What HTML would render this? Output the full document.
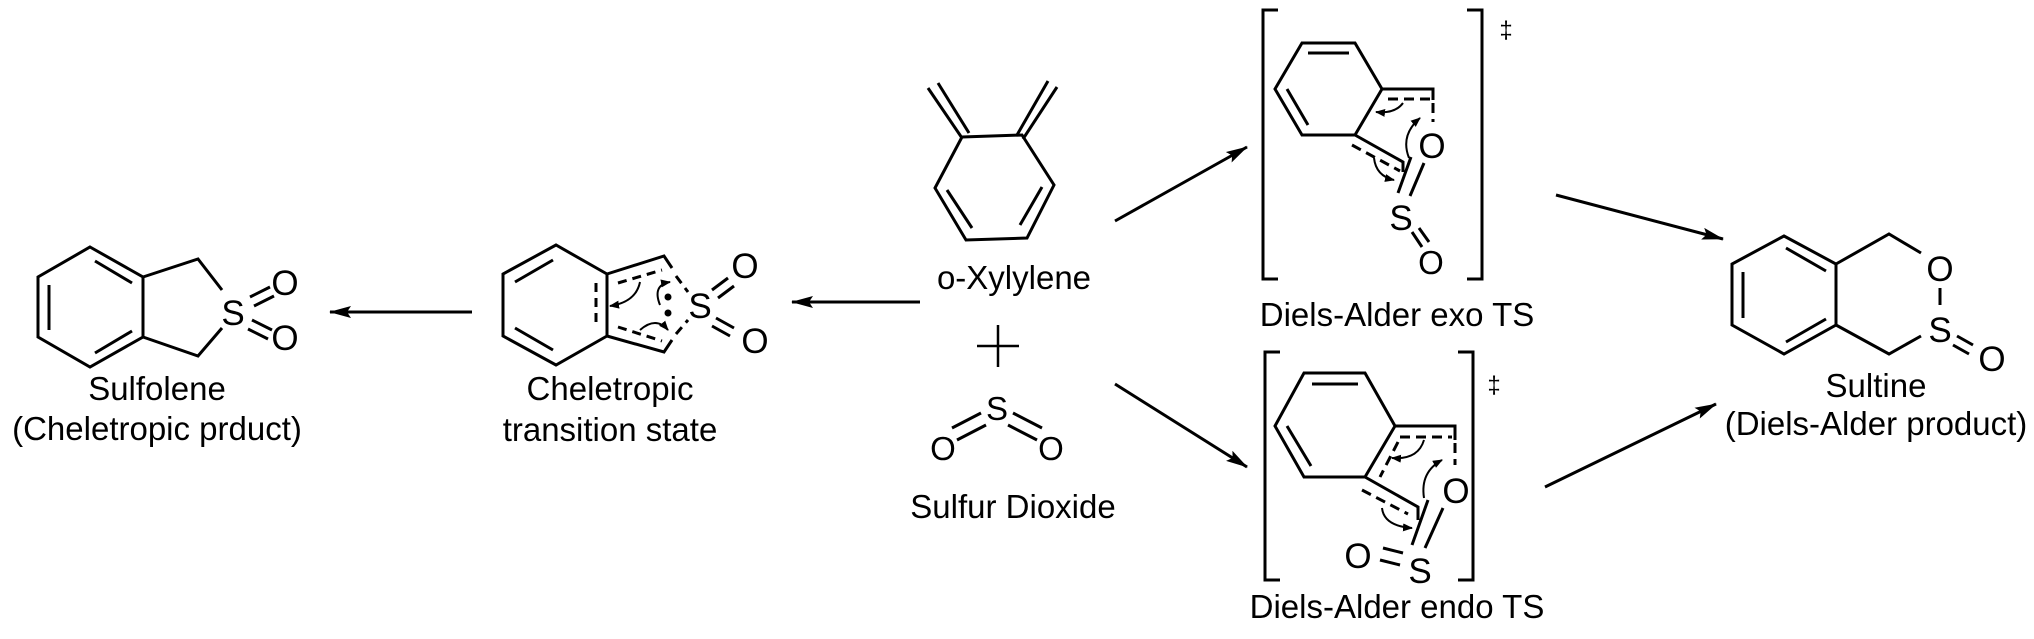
<!DOCTYPE html>
<html><head><meta charset="utf-8"><style>
html,body{margin:0;padding:0;background:#fff}
svg{display:block}
text{font-family:"Liberation Sans",Arial,sans-serif;fill:#000}
</style></head><body>
<svg width="2034" height="639" viewBox="0 0 2034 639" xmlns="http://www.w3.org/2000/svg">
<defs>
<marker id="ah" markerWidth="10" markerHeight="8" refX="9" refY="4" orient="auto" markerUnits="userSpaceOnUse">
<path d="M0,0 L10,4 L0,8 Z" fill="#000"/></marker>
<marker id="big" markerWidth="22" markerHeight="12" refX="21" refY="6" orient="auto" markerUnits="userSpaceOnUse">
<path d="M0,0 L22,6 L0,12 L4,6 Z" fill="#000"/></marker>
</defs>
<g stroke="#000" stroke-width="3" fill="none" stroke-linecap="butt">
<polygon points="90,247 143,277 143,337 90,367 38,337 38,277"/>
<line x1="49" y1="285" x2="49" y2="330"/>
<line x1="95" y1="261" x2="132" y2="283"/>
<line x1="95" y1="353" x2="132" y2="331"/>
<polyline points="143,277 198,259 222,290"/>
<polyline points="143,337 198,356 222,328"/>
<line x1="250" y1="297" x2="270" y2="287"/><line x1="254" y1="306" x2="274" y2="296"/>
<line x1="252" y1="320" x2="272" y2="330"/><line x1="248" y1="329" x2="268" y2="339"/>
<line x1="472" y1="312" x2="330" y2="312" marker-end="url(#big)"/>
<polyline points="607,274 556,245 503,274 503,336 556,365 607,336"/>
<line x1="607" y1="274" x2="607" y2="336"/>
<line x1="515" y1="282" x2="553" y2="260"/>
<line x1="515" y1="328" x2="553" y2="350"/>
<line x1="596" y1="283" x2="596" y2="328" stroke-dasharray="9,6"/>
<polyline points="607,274 664,256 672,268"/>
<line x1="676" y1="276" x2="688" y2="292" stroke-dasharray="9,6"/>
<line x1="618" y1="283" x2="662" y2="270" stroke-dasharray="9,6"/>
<polyline points="607,336 664,352 672,340"/>
<line x1="676" y1="334" x2="688" y2="320" stroke-dasharray="9,6"/>
<line x1="618" y1="327" x2="662" y2="341" stroke-dasharray="9,6"/>
<line x1="712" y1="290" x2="728" y2="278"/><line x1="718" y1="298" x2="734" y2="286"/>
<line x1="716" y1="318" x2="734" y2="328"/><line x1="712" y1="326" x2="730" y2="336"/>
<path d="M640,282 Q636,302 610,306" stroke-width="2" marker-end="url(#ah)"/>
<path d="M660,305 Q652,285 670,282" stroke-width="2" marker-end="url(#ah)"/>
<path d="M640,330 Q656,316 668,330" stroke-width="2" marker-end="url(#ah)"/>
<line x1="920" y1="302" x2="792" y2="302" marker-end="url(#big)"/>
<polygon points="962,137 1022,135 1054,185 1027,238 966,240 935,188"/>
<line x1="947" y1="190" x2="972" y2="228"/>
<line x1="1042" y1="187" x2="1020" y2="225"/>
<line x1="928" y1="88" x2="962" y2="138"/><line x1="938" y1="83" x2="969" y2="133"/>
<line x1="1017" y1="135" x2="1048" y2="81"/><line x1="1023" y1="139" x2="1057" y2="87"/>
<line x1="977" y1="346" x2="1019" y2="346" stroke-width="2.5"/>
<line x1="998" y1="325" x2="998" y2="367" stroke-width="2.5"/>
<line x1="1013" y1="413" x2="1042" y2="428"/><line x1="1008" y1="425" x2="1037" y2="440"/>
<line x1="981" y1="413" x2="952" y2="428"/><line x1="986" y1="425" x2="957" y2="440"/>
<line x1="1115" y1="221" x2="1247" y2="147" marker-end="url(#big)"/>
<line x1="1115" y1="384" x2="1247" y2="467" marker-end="url(#big)"/>
<line x1="1556" y1="195" x2="1723" y2="239" marker-end="url(#big)"/>
<line x1="1545" y1="487" x2="1716" y2="404" marker-end="url(#big)"/>
<polyline points="1278,10 1263,10 1263,279 1278,279"/>
<polyline points="1467,10 1482,10 1482,279 1467,279"/>
<polygon points="1302,43 1355,43 1382,89 1355,135 1302,135 1275,89"/>
<line x1="1308" y1="53" x2="1349" y2="53"/>
<line x1="1287" y1="89" x2="1308" y2="125"/>
<polyline points="1382,89 1433,89 1433,100"/>
<line x1="1388" y1="99" x2="1430" y2="99" stroke-dasharray="10,6"/>
<line x1="1433" y1="103" x2="1433" y2="122" stroke-dasharray="10,6"/>
<polyline points="1355,135 1403,162 1403,172"/>
<line x1="1352" y1="145" x2="1400" y2="171" stroke-dasharray="10,6"/>
<line x1="1398" y1="193" x2="1411" y2="157"/><line x1="1410" y1="196" x2="1424" y2="163"/>
<line x1="1412" y1="232" x2="1422" y2="247"/><line x1="1419" y1="228" x2="1429" y2="242"/>
<path d="M1403,103 Q1395,114 1376,112" stroke-width="2" marker-end="url(#ah)"/>
<path d="M1409,158 Q1400,135 1420,118" stroke-width="2" marker-end="url(#ah)"/>
<path d="M1374,158 Q1376,176 1394,180" stroke-width="2" marker-end="url(#ah)"/>
<polyline points="1280,352 1265,352 1265,580 1280,580"/>
<polyline points="1458,352 1473,352 1473,580 1458,580"/>
<polygon points="1304,373 1365,373 1395,426 1365,477 1304,477 1275,426"/>
<line x1="1312" y1="384" x2="1358" y2="384"/>
<line x1="1287" y1="426" x2="1311" y2="466"/>
<polyline points="1395,426 1455,426 1455,440"/>
<line x1="1400" y1="437" x2="1452" y2="437" stroke-dasharray="10,6"/>
<line x1="1398" y1="442" x2="1380" y2="477" stroke-dasharray="10,6"/>
<line x1="1455" y1="443" x2="1455" y2="465" stroke-dasharray="10,6"/>
<polyline points="1365,477 1418,507 1418,520"/>
<line x1="1362" y1="490" x2="1408" y2="514" stroke-dasharray="10,6"/>
<line x1="1412" y1="545" x2="1428" y2="500"/><line x1="1425" y1="548" x2="1443" y2="508"/>
<line x1="1383" y1="548" x2="1403" y2="553"/><line x1="1380" y1="560" x2="1400" y2="565"/>
<path d="M1424,440 Q1418,460 1392,458" stroke-width="2" marker-end="url(#ah)"/>
<path d="M1424,498 Q1420,472 1442,460" stroke-width="2" marker-end="url(#ah)"/>
<path d="M1382,508 Q1384,526 1412,528" stroke-width="2" marker-end="url(#ah)"/>
<polygon points="1784,236 1836,264 1836,325 1784,354 1732,325 1732,264"/>
<line x1="1743" y1="272" x2="1743" y2="318"/>
<line x1="1786" y1="248" x2="1826" y2="271"/>
<line x1="1786" y1="342" x2="1826" y2="319"/>
<polyline points="1836,264 1889,234 1921,253"/>
<line x1="1940" y1="288" x2="1940" y2="305"/>
<polyline points="1921,336 1889,354 1836,325"/>
<line x1="1957" y1="336" x2="1973" y2="345"/><line x1="1953" y1="345" x2="1969" y2="354"/>
</g>
<g font-size="33">
<text x="233" y="325" text-anchor="middle" font-size="35">S</text>
<text x="285" y="295" text-anchor="middle" font-size="35">O</text>
<text x="285" y="350" text-anchor="middle" font-size="35">O</text>
<text x="157" y="400" text-anchor="middle">Sulfolene</text>
<text x="157" y="440" text-anchor="middle">(Cheletropic prduct)</text>
<text x="700" y="318" text-anchor="middle" font-size="35">S</text>
<text x="745" y="278" text-anchor="middle" font-size="35">O</text>
<text x="755" y="353" text-anchor="middle" font-size="35">O</text>
<circle cx="668" cy="297" r="3.5" fill="#000"/>
<circle cx="668" cy="313" r="3.5" fill="#000"/>
<text x="610" y="400" text-anchor="middle">Cheletropic</text>
<text x="610" y="441" text-anchor="middle">transition state</text>
<text x="1014" y="289" text-anchor="middle">o-Xylylene</text>
<text x="997" y="420" text-anchor="middle">S</text>
<text x="1051" y="460" text-anchor="middle">O</text>
<text x="943" y="460" text-anchor="middle">O</text>
<text x="1013" y="518" text-anchor="middle">Sulfur Dioxide</text>
<text x="1432" y="158" text-anchor="middle" font-size="35">O</text>
<text x="1401" y="230" text-anchor="middle" font-size="35">S</text>
<text x="1431" y="274" text-anchor="middle">O</text>
<text x="1506" y="38" text-anchor="middle" font-size="24">‡</text>
<text x="1397" y="326" text-anchor="middle">Diels-Alder exo TS</text>
<text x="1456" y="503" text-anchor="middle" font-size="35">O</text>
<text x="1420" y="583" text-anchor="middle" font-size="35">S</text>
<text x="1358" y="568" text-anchor="middle" font-size="35">O</text>
<text x="1494" y="393" text-anchor="middle" font-size="24">‡</text>
<text x="1397" y="618" text-anchor="middle">Diels-Alder endo TS</text>
<text x="1940" y="281" text-anchor="middle" font-size="35">O</text>
<text x="1940" y="342" text-anchor="middle" font-size="35">S</text>
<text x="1992" y="371" text-anchor="middle" font-size="35">O</text>
<text x="1876" y="397" text-anchor="middle">Sultine</text>
<text x="1876" y="435" text-anchor="middle">(Diels-Alder product)</text>
</g>
</svg>
</body></html>
